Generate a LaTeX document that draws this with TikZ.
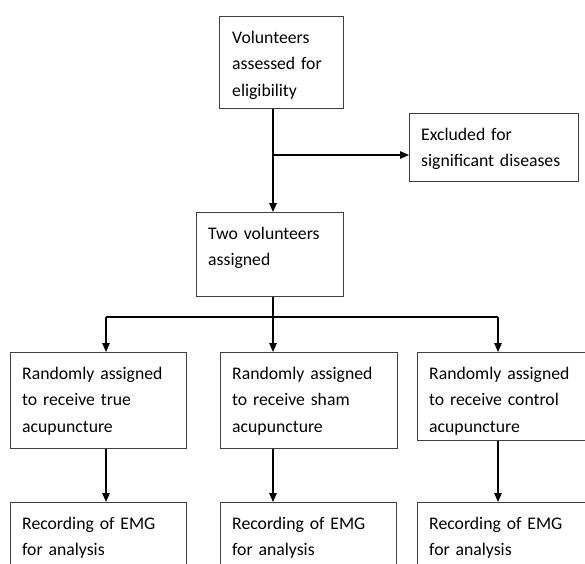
\documentclass[tikz,border=0pt]{standalone}
\usepackage{fontspec}
\setmainfont{Carlito}
\usetikzlibrary{arrows.meta}

\tikzset{
  box/.style={draw=black!75, line width=0.9pt, anchor=north west, inner sep=0pt},
  txt/.style={anchor=base west, inner sep=0pt, text width=175pt, align=left,
    font=\fontsize{17.7}{26.6}\selectfont},
  arr/.style={line width=1.2pt, -{Triangle[length=9pt,width=7.5pt]}},
  ln/.style={line width=1.2pt}
}

\begin{document}
\begin{tikzpicture}[x=1pt,y=-1pt]
\useasboundingbox (0,0) rectangle (585,563);
\clip (0,0) rectangle (585,563);
% boxes
\node[box, minimum width=124pt, minimum height=92pt] (elig) at (219,16) {};
\node[txt] (eligt) at (232,43) {Volunteers\\assessed for\\eligibility};
\node[box, minimum width=169pt, minimum height=68pt] (excl) at (409,113) {};
\node[txt] (exclt) at (421,140) {Excluded for\\significant diseases};
\node[box, minimum width=147pt, minimum height=84pt] (two) at (196,212) {};
\node[txt] (twot) at (208,239) {Two volunteers\\assigned};
\node[box, minimum width=176pt, minimum height=96pt] (rtrue) at (10,352) {};
\node[txt] (rtruet) at (22,379) {Randomly assigned\\to receive true\\acupuncture};
\node[box, minimum width=177pt, minimum height=96pt] (rsham) at (220,352) {};
\node[txt] (rshamt) at (232,379) {Randomly assigned\\to receive sham\\acupuncture};
\node[box, minimum width=176pt, minimum height=88pt] (rctrl) at (417,352) {};
\node[txt] (rctrlt) at (429,379) {Randomly assigned\\to receive control\\acupuncture};
\node[box, minimum width=176pt, minimum height=80pt] (emga) at (10,502) {};
\node[txt] (emgat) at (22,529) {Recording of EMG\\for analysis};
\node[box, minimum width=176pt, minimum height=80pt] (emgb) at (220,502) {};
\node[txt] (emgbt) at (232,529) {Recording of EMG\\for analysis};
\node[box, minimum width=176pt, minimum height=80pt] (emgc) at (417,502) {};
\node[txt] (emgct) at (429,529) {Recording of EMG\\for analysis};
% junctions
\coordinate (jex) at (273,155);
\coordinate (jmid) at (273,317);
\coordinate (jl) at (106,317);
\coordinate (jr) at (498,317);
% connectors
\draw[arr] (jex |- elig.south) -- (jex |- two.north);
\draw[arr] (jex) -- (excl.west |- jex);
\draw[ln] (jmid |- two.south) -- (jmid);
\draw[ln] (jl) -- (jr);
\draw[arr] (jl) -- (jl |- rtrue.north);
\draw[arr] (jmid) -- (jmid |- rsham.north);
\draw[arr] (jr) -- (jr |- rctrl.north);
\draw[arr] (jl |- rtrue.south) -- (jl |- emga.north);
\draw[arr] (jmid |- rsham.south) -- (jmid |- emgb.north);
\draw[arr] (jr |- rctrl.south) -- (jr |- emgc.north);
\end{tikzpicture}
\end{document}
